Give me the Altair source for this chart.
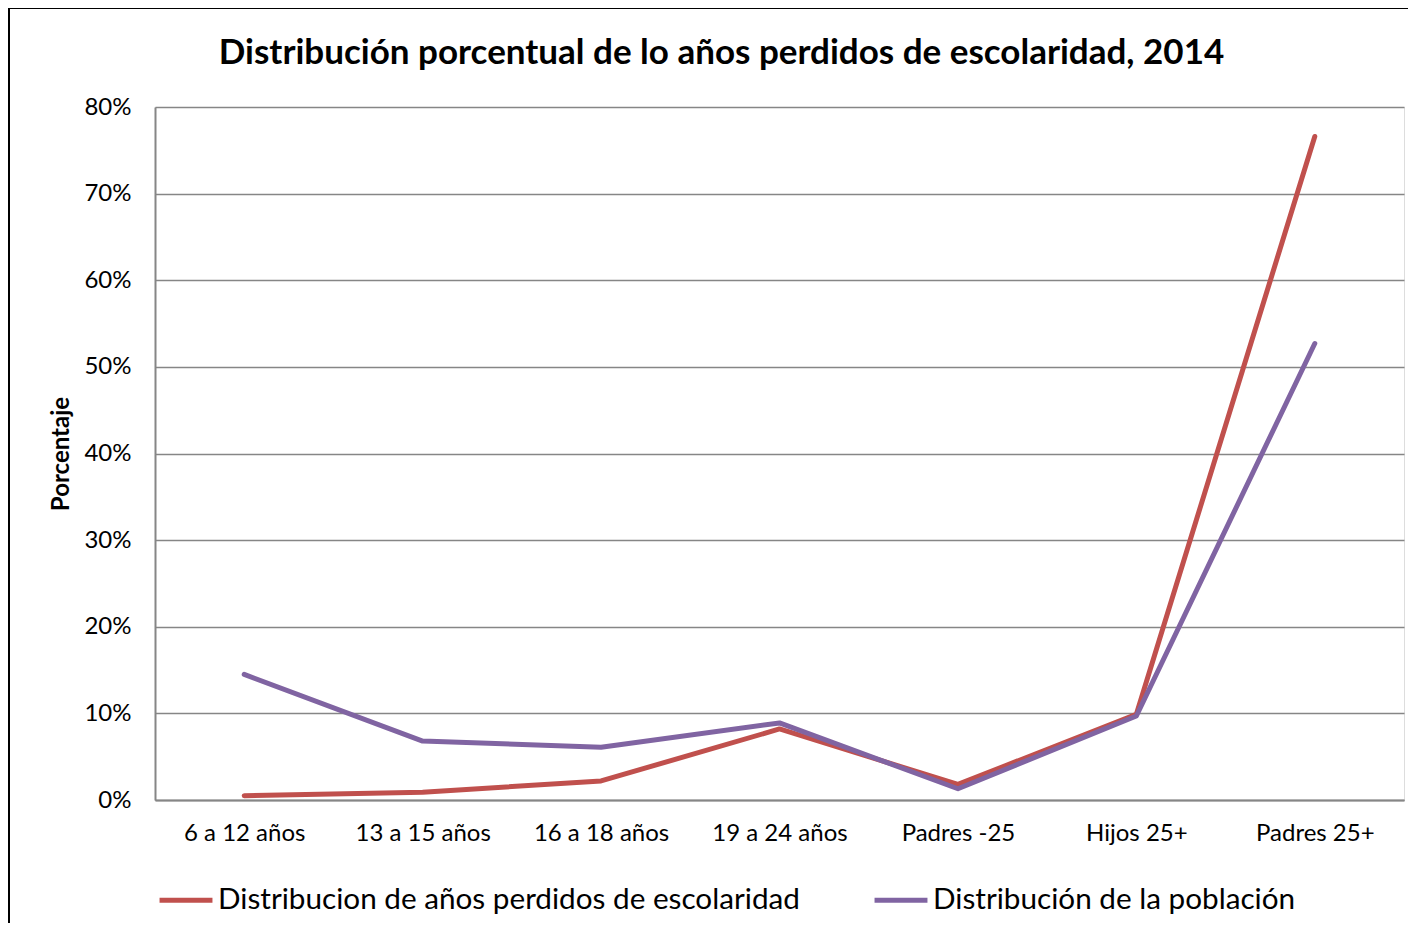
import altair as alt
import pandas as pd

categories = ["6 a 12 años", "13 a 15 años", "16 a 18 años", "19 a 24 años",
              "Padres -25", "Hijos 25+", "Padres 25+"]
serie_anos = [0.005, 0.009, 0.022, 0.082, 0.018, 0.099, 0.766]
serie_pob = [0.145, 0.068, 0.061, 0.089, 0.013, 0.097, 0.527]
series_names = ["Distribucion de años perdidos de escolaridad", "Distribución de la población"]
colors = ["#C0504D", "#8064A2"]
y_ticks = [0, 0.1, 0.2, 0.3, 0.4, 0.5, 0.6, 0.7]

rows = []
for c, v in zip(categories, serie_anos):
    rows.append({"cat": c, "val": v, "serie": series_names[0]})
for c, v in zip(categories, serie_pob):
    rows.append({"cat": c, "val": v, "serie": series_names[1]})
df = pd.DataFrame(rows)

W, H = 1249, 693
FONT = "Lato"

lines = alt.Chart(df).mark_line(strokeWidth=5, strokeCap="round", strokeJoin="round").encode(
    x=alt.X("cat:N", sort=categories,
            scale=alt.Scale(type="point", padding=0.5),
            axis=alt.Axis(title=None, labelAngle=0, labelFontSize=24, labelFont=FONT,
                          labelColor="#000000", labelPadding=21, ticks=False,
                          domainColor="#868686", domainWidth=2, grid=False)),
    y=alt.Y("val:Q", scale=alt.Scale(domain=[0, 0.8], nice=False),
            axis=alt.Axis(title="Porcentaje", format=".0%", values=y_ticks + [0.8],
                          labelOverlap=False,
                          labelFontSize=24, labelFont=FONT, labelColor="#000000",
                          labelPadding=24, ticks=False, domainColor="#868686", domainWidth=2,
                          grid=True, gridColor="#868686", gridWidth=1.5,
                          titleFont=FONT, titleFontSize=24, titleFontWeight="bold",
                          titleColor="#000000", titlePadding=10)),
    color=alt.Color("serie:N", sort=series_names,
                    scale=alt.Scale(domain=series_names, range=colors),
                    legend=alt.Legend(title=None, orient="none", legendX=2, legendY=764,
                                      direction="horizontal", symbolType="stroke",
                                      symbolSize=2800, symbolStrokeWidth=5,
                                      labelFont=FONT, labelFontSize=29.7, labelColor="#000000",
                                      labelOffset=3, columnPadding=64, labelLimit=900)),
)

frame = alt.Chart(pd.DataFrame({"a": [0]})).mark_rect(filled=False, stroke="#000000", strokeWidth=2).encode(
    x=alt.value(-146), x2=alt.value(1257), y=alt.value(-99), y2=alt.value(900)
)

chart = alt.layer(frame, lines).properties(
    width=W, height=H,
    title=alt.TitleParams("Distribución porcentual de lo años perdidos de escolaridad, 2014",
                          font=FONT, fontSize=35, fontWeight="bold", color="#000000",
                          anchor="middle", dx=-58, offset=0, dy=92, baseline="alphabetic"),
    autosize=alt.AutoSizeParams(type="none"),
    padding={"left": 147, "top": 99, "right": 4, "bottom": 123},
).configure_view(stroke="#000000", strokeWidth=1.5).configure(background="white")

chart.save("out.html", embed_options={"renderer": "svg", "actions": False})
